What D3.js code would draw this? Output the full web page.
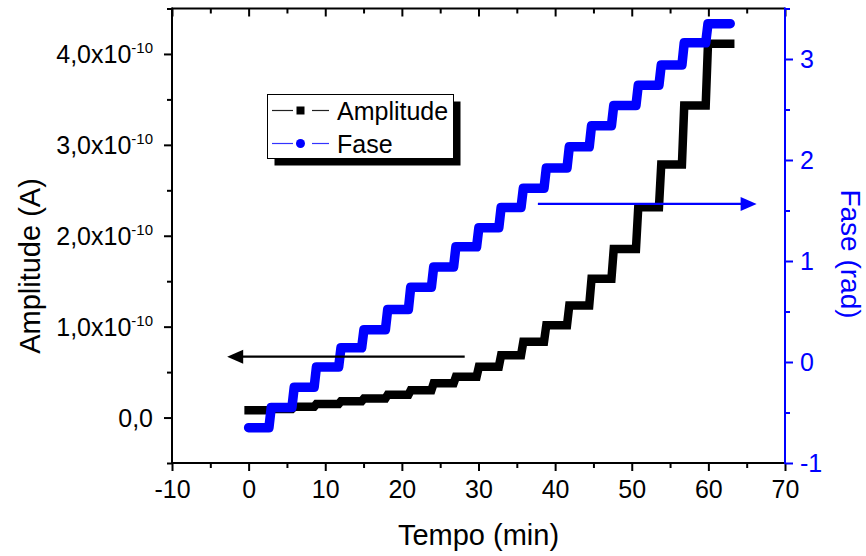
<!DOCTYPE html>
<html><head><meta charset="utf-8">
<script src="https://cdn.jsdelivr.net/npm/d3@7"></script>
<style>
body{margin:0;background:#fff}
svg{display:block}
text{font-family:"Liberation Sans",Arial,Helvetica,sans-serif}
</style>
</head><body>
<svg id="c" width="866" height="556"></svg>
<script>
// ---------- data ----------
const xTicks = [-10, 0, 10, 20, 30, 40, 50, 60, 70];
const xMinorTicks = [-5, 5, 15, 25, 35, 45, 55, 65];
const ampTicks = [0, 1e-10, 2e-10, 3e-10, 4e-10];
const ampTickMantissa = ["0,0", "1,0x10", "2,0x10", "3,0x10", "4,0x10"];
const ampTickExponent = ["", "-10", "-10", "-10", "-10"];
const ampMinorTicks = [-0.5e-10, 0.5e-10, 1.5e-10, 2.5e-10, 3.5e-10, 4.5e-10];
const faseTicks = [-1, 0, 1, 2, 3];
const faseMinorTicks = [-0.5, 0.5, 1.5, 2.5, 3.5];

// time (min) at which each plateau of the staircase starts / ends
const plateauStart = [0, 2.95, 5.95, 8.85, 12.05, 15.05, 18.15, 21.15, 24.15, 27.05, 30.05,
                      32.95, 35.85, 38.85, 41.85, 44.75, 47.65, 50.85, 53.85, 56.85, 59.95];
const plateauEnd   = [2.65, 5.65, 8.55, 11.75, 14.75, 17.85, 20.85, 23.85, 26.75, 29.75, 32.65,
                      35.55, 38.55, 41.55, 44.45, 47.35, 50.55, 53.55, 56.55, 59.65, 62.85];
// Amplitude (A) on each plateau
const amplitude = [0.08e-10, 0.095e-10, 0.12e-10, 0.15e-10, 0.18e-10, 0.21e-10, 0.25e-10,
                   0.30e-10, 0.376e-10, 0.449e-10, 0.559e-10, 0.686e-10, 0.833e-10, 1.015e-10,
                   1.234e-10, 1.527e-10, 1.854e-10, 2.314e-10, 2.785e-10, 3.433e-10, 4.113e-10];
// Fase (rad) on each plateau
const fase = [-0.65, -0.45, -0.25, -0.05, 0.14, 0.32, 0.52, 0.74, 0.94, 1.14, 1.33,
              1.53, 1.72, 1.92, 2.13, 2.34, 2.54, 2.74, 2.94, 3.16, 3.35];
const seriesNames = ["Amplitude", "Fase"];

// annotation arrows (data coordinates)
const ampArrow = {from: 28.2, to: -2.8, value: 0.67e-10};
const faseArrow = {from: 37.75, to: 66.3, value: 1.565};

// ---------- chart ----------
const BLUE = "#0000ff";
const svg = d3.select("#c");
const m = {l: 172, r: 785, t: 8.5, b: 463};
const x = d3.scaleLinear().domain([-10, 70]).range([m.l, m.r]);
const yL = d3.scaleLinear().domain([-0.5e-10, 4.5e-10]).range([m.b, m.t]);
const yR = d3.scaleLinear().domain([-1, 3.5]).range([m.b, m.t]);

function pts(vals) {
  const p = [];
  vals.forEach((v, i) => { p.push([plateauStart[i], v]); p.push([plateauEnd[i], v]); });
  return p;
}

// series
svg.append("path")
  .attr("d", d3.line().x(d => x(d[0])).y(d => yL(d[1]))(pts(amplitude)))
  .attr("fill", "none").attr("stroke", "#000").attr("stroke-width", 8.5)
  .attr("stroke-linejoin", "miter").attr("stroke-linecap", "square");
svg.append("path")
  .attr("d", d3.line().x(d => x(d[0])).y(d => yR(d[1]))(pts(fase)))
  .attr("fill", "none").attr("stroke", BLUE).attr("stroke-width", 9.5)
  .attr("stroke-linejoin", "round").attr("stroke-linecap", "round");

// axes
function styleAxis(g, color) {
  g.select(".domain").remove();
  g.selectAll(".tick line").attr("stroke", color).attr("stroke-width", 2);
  g.selectAll(".tick text").attr("fill", color).attr("font-size", 25)
    .attr("font-family", '"Liberation Sans",Arial,sans-serif');
}
// bottom
styleAxis(svg.append("g").attr("transform", `translate(0,${m.b})`)
  .call(d3.axisBottom(x).tickValues(xTicks).tickSize(8).tickPadding(9).tickFormat(d => String(d))), "#000");
styleAxis(svg.append("g").attr("transform", `translate(0,${m.b})`)
  .call(d3.axisBottom(x).tickValues(xMinorTicks).tickSize(5).tickFormat("")), "#000");
// top (inward)
styleAxis(svg.append("g").attr("transform", `translate(0,${m.t})`)
  .call(d3.axisBottom(x).tickValues(xTicks).tickSize(8).tickFormat("")), "#000");
styleAxis(svg.append("g").attr("transform", `translate(0,${m.t})`)
  .call(d3.axisBottom(x).tickValues(xMinorTicks).tickSize(5).tickFormat("")), "#000");
// left
styleAxis(svg.append("g").attr("transform", `translate(${m.l},0)`)
  .call(d3.axisLeft(yL).tickValues(ampTicks).tickSize(8).tickFormat("")), "#000");
styleAxis(svg.append("g").attr("transform", `translate(${m.l},0)`)
  .call(d3.axisLeft(yL).tickValues(ampMinorTicks).tickSize(5).tickFormat("")), "#000");
const lab = svg.append("g");
ampTicks.forEach((v, i) => {
  const t = lab.append("text").attr("x", 153).attr("y", yL(v) + 9)
    .attr("text-anchor", "end").attr("font-size", 25).attr("fill", "#000");
  t.append("tspan").text(ampTickMantissa[i]);
  if (ampTickExponent[i]) t.append("tspan").attr("font-size", 15).attr("dy", -10).text(ampTickExponent[i]);
});
// right
styleAxis(svg.append("g").attr("transform", `translate(${m.r},0)`)
  .call(d3.axisRight(yR).tickValues(faseTicks).tickSize(8).tickPadding(7).tickFormat(d => String(d))), BLUE);
styleAxis(svg.append("g").attr("transform", `translate(${m.r},0)`)
  .call(d3.axisRight(yR).tickValues(faseMinorTicks).tickSize(5).tickFormat("")), BLUE);

// frame
const fr = svg.append("g").attr("stroke-width", 2).attr("fill", "none");
fr.append("line").attr("x1", m.l).attr("x2", m.r).attr("y1", m.t).attr("y2", m.t).attr("stroke", "#000");
fr.append("line").attr("x1", m.l).attr("x2", m.r).attr("y1", m.b).attr("y2", m.b).attr("stroke", "#000");
fr.append("line").attr("x1", m.l).attr("x2", m.l).attr("y1", m.t - 1).attr("y2", m.b + 1).attr("stroke", "#000");
fr.append("line").attr("x1", m.r).attr("x2", m.r).attr("y1", m.t - 1).attr("y2", m.b + 1).attr("stroke", BLUE);

// titles
svg.append("text").attr("x", (m.l + m.r) / 2).attr("y", 545).attr("text-anchor", "middle")
  .attr("font-size", 29).attr("fill", "#000").text("Tempo (min)");
svg.append("text").attr("transform", "translate(40,266) rotate(-90)").attr("text-anchor", "middle")
  .attr("font-size", 29).attr("fill", "#000").text("Amplitude (A)");
svg.append("text").attr("transform", "translate(841,254) rotate(90)").attr("text-anchor", "middle")
  .attr("font-size", 28).attr("fill", BLUE).text("Fase (rad)");

// arrows
function arrow(x1, x2, y, color) {
  const dir = Math.sign(x2 - x1), L = 16, w = 7;
  svg.append("line").attr("x1", x1).attr("x2", x2 - dir * L + dir).attr("y1", y).attr("y2", y)
    .attr("stroke", color).attr("stroke-width", 2.3);
  svg.append("path").attr("d", `M${x2},${y}L${x2 - dir * L},${y - w}L${x2 - dir * L},${y + w}Z`).attr("fill", color);
}
arrow(x(ampArrow.from), x(ampArrow.to), yL(ampArrow.value), "#000");
arrow(x(faseArrow.from), x(faseArrow.to), yR(faseArrow.value), BLUE);

// legend
const lg = svg.append("g");
const bx = 267.5, by = 94.5, bw = 186, bh = 64;
lg.append("rect").attr("x", bx + 7).attr("y", by + 7).attr("width", bw).attr("height", bh).attr("fill", "#000");
lg.append("rect").attr("x", bx).attr("y", by).attr("width", bw).attr("height", bh)
  .attr("fill", "#fff").attr("stroke", "#000").attr("stroke-width", 1);
const rows = [{y: 110.5, c: "#000", lc: "#222", sq: true}, {y: 143.5, c: BLUE, lc: "#3333ff", sq: false}];
rows.forEach((r, i) => {
  lg.append("line").attr("x1", 272).attr("x2", 293).attr("y1", r.y).attr("y2", r.y)
    .attr("stroke", r.lc).attr("stroke-width", 1.2);
  lg.append("line").attr("x1", 312).attr("x2", 329).attr("y1", r.y).attr("y2", r.y)
    .attr("stroke", r.lc).attr("stroke-width", 1.2);
  if (r.sq) lg.append("rect").attr("x", 296.5).attr("y", r.y - 4).attr("width", 8).attr("height", 8).attr("fill", r.c);
  else lg.append("circle").attr("cx", 300.5).attr("cy", r.y).attr("r", 4.5).attr("fill", r.c);
  lg.append("text").attr("x", 337).attr("y", r.y + 9).attr("font-size", 25).attr("fill", "#000").text(seriesNames[i]);
});
</script>
</body></html>
